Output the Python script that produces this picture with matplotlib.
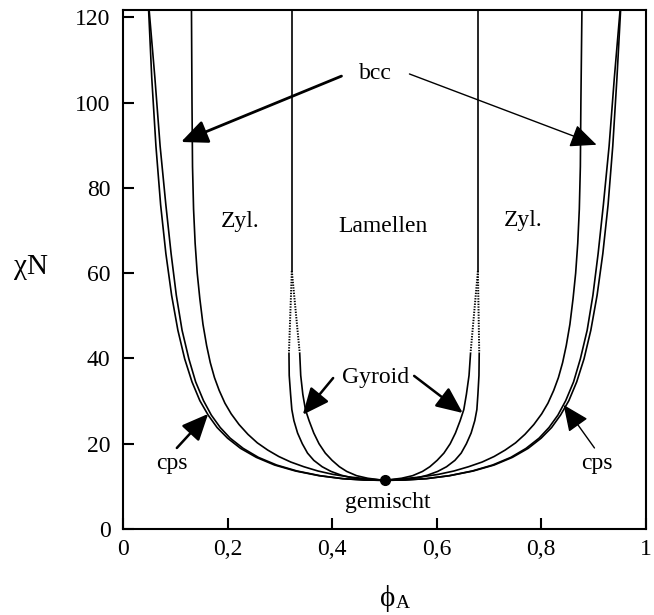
import matplotlib
matplotlib.use("Agg")
import matplotlib.pyplot as plt

# ---------------- data ----------------
# outer curve (mixed / cps boundary)
odt_y  = [121.7, 105.8, 89.8, 76.0, 64.6, 54.8, 46.6, 39.9, 34.5, 30.1, 26.7, 23.8, 21.3, 18.9, 16.8, 15.0, 13.6, 12.5, 11.8, 11.5, 11.4]
odt_xl = [0.049, 0.055, 0.063, 0.072, 0.082, 0.093, 0.105, 0.118, 0.132, 0.147, 0.163, 0.180, 0.200, 0.225, 0.255, 0.290, 0.330, 0.375, 0.420, 0.460, 0.500]
odt_xr = [0.952, 0.945, 0.937, 0.928, 0.918, 0.907, 0.895, 0.882, 0.868, 0.853, 0.837, 0.820, 0.800, 0.775, 0.745, 0.710, 0.670, 0.625, 0.580, 0.540, 0.500]
# cps / bcc boundary
cps_y  = [121.7, 105.8, 89.8, 76.0, 64.6, 54.8, 46.6, 39.9, 34.5, 30.1, 26.7, 23.8, 21.3, 18.9, 16.8, 15.0, 13.6, 12.5, 11.8, 11.5, 11.4]
cps_xl = [0.050, 0.061, 0.071, 0.082, 0.092, 0.102, 0.113, 0.126, 0.139, 0.154, 0.169, 0.186, 0.205, 0.230, 0.259, 0.294, 0.333, 0.377, 0.421, 0.461, 0.500]
cps_xr = [0.951, 0.940, 0.930, 0.919, 0.909, 0.899, 0.888, 0.875, 0.862, 0.847, 0.832, 0.815, 0.796, 0.771, 0.742, 0.707, 0.668, 0.624, 0.580, 0.540, 0.500]
# bcc / cylinder boundary
bz_y   = [121.7, 100, 85, 75, 67, 60, 54, 48, 43, 39, 35.5, 32.5, 29.5, 27, 24.5, 22.2, 20.2, 18.5, 17.0, 15.7, 14.6, 13.6, 12.8, 12.2, 11.8, 11.4]
bz_xl  = [0.131, 0.132, 0.133, 0.135, 0.138, 0.142, 0.147, 0.153, 0.160, 0.167, 0.175, 0.184, 0.195, 0.207, 0.222, 0.239, 0.257, 0.277, 0.298, 0.321, 0.346, 0.373, 0.402, 0.433, 0.465, 0.500]
bz_xr  = [0.878, 0.876, 0.875, 0.873, 0.870, 0.866, 0.861, 0.855, 0.848, 0.841, 0.833, 0.824, 0.813, 0.801, 0.786, 0.769, 0.751, 0.731, 0.710, 0.687, 0.661, 0.633, 0.603, 0.570, 0.537, 0.500]
# cylinder / lamellae boundary (upper solid part)
lam_y  = [121.7, 60.5]
lam_xl = [0.323, 0.323]
lam_xr = [0.679, 0.679]
# dotted (uncertain) parts
dot_y      = [60.5, 41.4]
dot_xl_out = [0.323, 0.3175]
dot_xl_in  = [0.323, 0.338]
dot_xr_in  = [0.679, 0.665]
dot_xr_out = [0.679, 0.6815]
# cylinder / gyroid boundary
zg_y   = [41.4, 36, 31.6, 28, 25.4, 22.5, 20, 17.8, 16.1, 14.6, 13.5, 12.6, 12.0, 11.6, 11.4]
zg_xl  = [0.3175, 0.318, 0.3206, 0.323, 0.327, 0.334, 0.343, 0.353, 0.365, 0.381, 0.398, 0.418, 0.438, 0.462, 0.500]
zg_xr  = [0.6815, 0.681, 0.679, 0.677, 0.673, 0.666, 0.657, 0.647, 0.635, 0.619, 0.602, 0.582, 0.562, 0.538, 0.500]
# gyroid / lamellae boundary
gl_y   = [41.4, 36, 31.6, 28, 25.4, 22.5, 20, 17.8, 16.1, 14.6, 13.5, 12.5, 11.9, 11.4]
gl_xl  = [0.338, 0.340, 0.344, 0.349, 0.356, 0.365, 0.375, 0.387, 0.400, 0.414, 0.428, 0.447, 0.468, 0.500]
gl_xr  = [0.665, 0.662, 0.657, 0.652, 0.645, 0.636, 0.626, 0.614, 0.601, 0.587, 0.573, 0.554, 0.533, 0.500]
# critical point
crit_x, crit_y = 0.501, 11.4

x_ticks = [0, 0.2, 0.4, 0.6, 0.8, 1.0]
x_labels = ["0", "0,2", "0,4", "0,6", "0,8", "1"]
y_ticks = [0, 20, 40, 60, 80, 100, 120]
y_labels = ["0", "20", "40", "60", "80", "100", "120"]

# ---------------- figure ----------------
serif = ["Liberation Serif", "DejaVu Serif"]
plt.rcParams["font.family"] = serif

fig = plt.figure(figsize=(6.54, 6.15), dpi=100)
ax = fig.add_axes([123 / 654, 1 - 529 / 615, (645.7 - 123) / 654, (529 - 10) / 615])
ax.set_xlim(0.006, 1.0)
ax.set_ylim(0, 121.7)

lw = 1.2
for xs, ys in [(odt_xl, odt_y), (odt_xr, odt_y), (cps_xl, cps_y), (cps_xr, cps_y),
               (bz_xl, bz_y), (bz_xr, bz_y), (lam_xl, lam_y), (lam_xr, lam_y),
               (zg_xl, zg_y), (zg_xr, zg_y), (gl_xl, gl_y), (gl_xr, gl_y)]:
    ax.plot(xs, ys, color="black", lw=lw, solid_joinstyle="round", solid_capstyle="butt")
for xs in [dot_xl_out, dot_xl_in, dot_xr_in, dot_xr_out]:
    ax.plot(xs, dot_y, color="black", lw=1.4, linestyle=(0, (0.7, 0.7)))

ax.plot([crit_x], [crit_y], "o", color="black", ms=7, zorder=5)

for s in ax.spines.values():
    s.set_linewidth(1.5)
ax.set_xticks(x_ticks)
ax.set_xticklabels(x_labels)
ax.set_yticks(y_ticks)
ax.set_yticklabels(y_labels)
ax.tick_params(direction="in", length=8, width=1.5, labelsize=17, top=False, right=False)
ax.tick_params(axis="x", pad=7)
ax.tick_params(axis="y", pad=9)

fs = 17
ax.text(0.482, 106.9, "bcc", ha="center", va="center", fontsize=fs)
ax.text(0.225, 72.0, "Zyl.", ha="center", va="center", fontsize=fs)
ax.text(0.4976, 71.0, "Lamellen", ha="center", va="center", fontsize=fs)
ax.text(0.765, 72.4, "Zyl.", ha="center", va="center", fontsize=fs)
ax.text(0.483, 35.6, "Gyroid", ha="center", va="center", fontsize=fs)
ax.text(0.093, 15.3, "cps", ha="center", va="center", fontsize=fs)
ax.text(0.906, 15.3, "cps", ha="center", va="center", fontsize=fs)
ax.text(0.5056, 6.2, "gemischt", ha="center", va="center", fontsize=fs)

def arrow(tail, tip, lw, hl=0.9, hw=0.4, ms=18):
    ax.annotate("", xy=tip, xytext=tail,
                arrowprops=dict(arrowstyle=f"-|>,head_length={hl},head_width={hw}",
                                color="black", lw=lw, mutation_scale=ms,
                                shrinkA=0, shrinkB=0))

arrow((0.418, 106.2), (0.111, 90.75), 2.0)
arrow((0.548, 106.7), (0.906, 90.1), 1.0)
arrow((0.402, 35.4), (0.344, 26.8), 1.8)
arrow((0.557, 35.9), (0.650, 27.2), 1.8)
arrow((0.103, 19.0), (0.163, 27.0), 1.8)
arrow((0.902, 19.0), (0.843, 29.1), 1.0)

fig.text(31 / 654, 1 - 267 / 615, "χN", ha="center", va="center", fontsize=21, family=serif)
fig.text(388 / 654, 1 - 598 / 615, "ϕ", ha="center", va="center", fontsize=21, family=serif)
fig.text(403 / 654, 1 - 604 / 615, "A", ha="center", va="center", fontsize=14, family=serif)

fig.savefig("out.png", dpi=100)
